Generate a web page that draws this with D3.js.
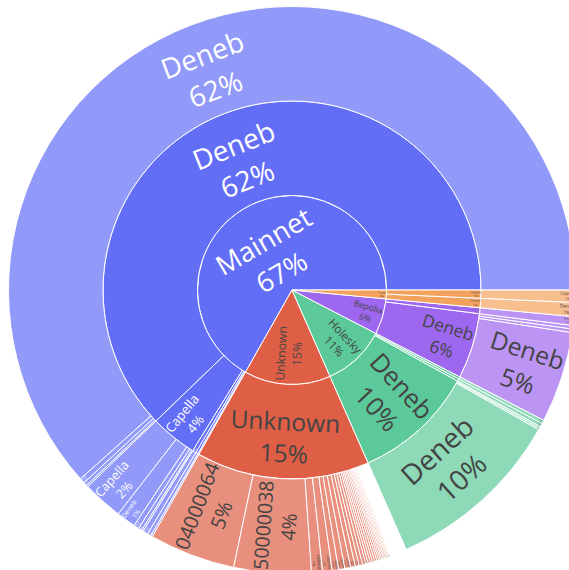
<!DOCTYPE html>
<html><head><meta charset="utf-8">
<script src="https://cdn.jsdelivr.net/npm/d3@7"></script>
<style>html,body{margin:0;padding:0;background:#fff;overflow:hidden}</style>
</head><body>
<svg id="chart" width="569" height="570"></svg>
<script>
// ---------------- DATA (values per mille of all clients) ----------------
const level1Labels = ["Mainnet", "Unknown", "Holesky", "Bepolia", "Hoodi"];
const level1Values = [668, 148, 108, 61, 15];

const level2Parents = ["Mainnet", "Mainnet", "Mainnet", "Mainnet", "Mainnet", "Unknown", "Holesky", "Holesky", "Holesky", "Bepolia", "Bepolia", "Hoodi", "Hoodi"];
const level2Labels  = ["Deneb", "Capella", "Bellatrix", "Altair", "Electra", "Unknown", "Deneb", "Electra", "Capella", "Deneb", "Electra", "Deneb", "Capella"];
const level2Values  = [622, 40, 3, 2, 1, 148, 104, 2, 2, 56, 5, 8, 7];

const level3Parents = [
  "Mainnet/Deneb", "Mainnet/Deneb", "Mainnet/Deneb", "Mainnet/Deneb",
  "Mainnet/Capella", "Mainnet/Capella", "Mainnet/Capella", "Mainnet/Capella", "Mainnet/Capella",
  "Mainnet/Bellatrix", "Mainnet/Altair", "Mainnet/Electra",
  "Unknown/Unknown", "Unknown/Unknown", "Unknown/Unknown", "Unknown/Unknown", "Unknown/Unknown",
  "Unknown/Unknown", "Unknown/Unknown", "Unknown/Unknown", "Unknown/Unknown", "Unknown/Unknown",
  "Unknown/Unknown", "Unknown/Unknown", "Unknown/Unknown", "Unknown/Unknown", "Unknown/Unknown",
  "Unknown/Unknown", "Unknown/Unknown", "Unknown/Unknown", "Unknown/Unknown", "Unknown/Unknown",
  "Unknown/Unknown", "Unknown/Unknown", "Unknown/Unknown", "Unknown/Unknown", "Unknown/Unknown",
  "Holesky/Deneb", "Holesky/Deneb", "Holesky/Deneb", "Holesky/Electra", "Holesky/Capella",
  "Bepolia/Deneb", "Bepolia/Deneb", "Bepolia/Deneb", "Bepolia/Electra",
  "Hoodi/Deneb", "Hoodi/Capella"
];
const level3Labels = [
  "Deneb", "Capella", "Electra", "Bellatrix",
  "Capella", "Deneb", "Bellatrix", "Altair", "Electra",
  "Bellatrix", "Altair", "Electra",
  "04000064", "50000038", "90000069", "00000364", "20000089",
  "00000396", "60000038", "10000064", "70000069", "30000038",
  "00000128", "80000064", "40000089", "00000912", "a0000038",
  "00000256", "b0000069", "00000448", "c0000064", "00000512",
  "d0000038", "00000640", "e0000069", "00000768", "f0000064",
  "Deneb", "Capella", "Electra", "Electra", "Capella",
  "Deneb", "Capella", "Electra", "Electra",
  "Deneb", "Capella"
];
const level3Values = [
  616, 3, 2, 1,
  23, 11, 3, 2, 1,
  3, 2, 1,
  49, 44, 6.3, 5.4, 3.6,
  3.6, 3.3, 2.7, 2.2, 2.0,
  1.8, 1.4, 1.3, 1.3, 1.3,
  1.2, 1.1, 1.0, 0.9, 0.9,
  0.8, 0.8, 0.7, 0.7, 0.6,
  102, 1, 1, 2, 2,
  52, 2, 2, 5,
  8, 7
];

// ---------------- STYLE ----------------
const networkColors = {Mainnet: "#636ef7", Unknown: "#df5f46", Holesky: "#5cc99a", Bepolia: "#9e67ef", Hoodi: "#f3a25e"};
const W = 569, H = 570, cx = 292, cy = 290, R = 283.5;
const MAXFONT = 28, TEXTPAD = 3;

// ---------------- BUILD TREE ----------------
const rootObj = {id: "", name: "", value: d3.sum(level1Values), children: []};
const byId = new Map();
level1Labels.forEach((l, i) => { const n = {id: l, name: l, value: level1Values[i], children: []}; rootObj.children.push(n); byId.set(n.id, n); });
level2Labels.forEach((l, i) => { const p = byId.get(level2Parents[i]); const n = {id: p.id + "/" + l, name: l, value: level2Values[i], children: []}; p.children.push(n); byId.set(n.id, n); });
level3Labels.forEach((l, i) => { const p = byId.get(level3Parents[i]); const n = {id: p.id + "/" + l + i, name: l, value: level3Values[i], children: []}; p.children.push(n); });
(function setOwn(n) {
  const cs = n.children || [];
  cs.forEach(setOwn);
  n.own = Math.max(0, n.value - d3.sum(cs, c => c.value));
  if (!cs.length) delete n.children;
})(rootObj);

const root = d3.hierarchy(rootObj).sum(d => d.own).sort((a, b) => b.value - a.value);
d3.partition().size([1, 4])(root);
const total = root.value;

const rScale = d3.scaleLinear().domain([1, 4]).range([0, R]);
const aScale = d3.scaleLinear().domain([0, 1]).range([Math.PI / 2, Math.PI / 2 - 2 * Math.PI]);

const arc = d3.arc()
  .startAngle(d => aScale(d.x0)).endAngle(d => aScale(d.x1))
  .innerRadius(d => rScale(d.y0)).outerRadius(d => rScale(d.y1));

const svg = d3.select("#chart");
svg.append("rect").attr("width", W).attr("height", H).attr("fill", "#fff");
const g = svg.append("g").attr("transform", `translate(${cx},${cy})`);

const nodes = root.descendants().filter(d => d.depth > 0);
const topOf = d => d.ancestors().find(a => a.depth === 1);
const baseColor = d => networkColors[topOf(d).data.name];

g.selectAll("path.slice").data(nodes).join("path")
  .attr("class", "slice")
  .attr("d", arc)
  .attr("fill", baseColor)
  .attr("fill-opacity", d => d.children ? 1 : 0.7)
  .attr("stroke", "#fff")
  .attr("stroke-width", 1);

// ---------------- TEXT (plotly-like inside-text fitting) ----------------
function fmtPct(v) {
  let s = Math.round(v * 100) + "%";
  if (s === "0%") {
    let t = (v * 100).toPrecision(3);
    if (t.indexOf(".") !== -1) t = t.replace(/[.]?0+$/, "");
    s = t + "%";
  }
  return s;
}
function calcMaxHalfSize(a, halfAngle, r, ring) {
  const q = a + 1 / (2 * Math.tan(halfAngle));
  return r * Math.min(1 / (Math.sqrt(q * q + 0.5) + q), ring / (Math.sqrt(a * a + ring / 2) + a));
}
function calcRCenter(a, b) { return Math.cos(b) - a * b; }
function calcRotate(t) { return (180 / Math.PI * t + 720) % 180 - 90; }

const tg = g.append("g");
nodes.forEach(d => {
  const col = d3.color(baseColor(d)).rgb();
  const bright = (col.r * 299 + col.g * 587 + col.b * 114) / 1000;
  const txt = tg.append("text")
    .attr("font-family", "'Open Sans', verdana, arial, sans-serif")
    .attr("font-size", MAXFONT)
    .attr("text-anchor", "middle")
    .attr("fill", bright < 128 ? "#fff" : "#444");
  txt.append("tspan").attr("x", 0).attr("y", 0).text(d.data.name);
  txt.append("tspan").attr("x", 0).attr("dy", "1.3em").text(fmtPct(d.value / total));
  const bb = txt.node().getBBox();
  const w = bb.width, h = bb.height;
  const rpx0 = rScale(d.y0), rpx1 = rScale(d.y1);
  const span = (d.x1 - d.x0) * 2 * Math.PI;
  const half = 0.5 * Math.min(span, Math.PI);
  const ring = 1 - rpx0 / rpx1;
  const mid = (aScale(d.x0) + aScale(d.x1)) / 2; // d3 convention
  const rIns = Math.max(0, Math.min(1 / (1 + 1 / Math.sin(half)), ring / 2));
  const cands = [];
  let T = {scale: rIns * rpx1 * 2 / Math.sqrt(w * w + h * h), rCenter: 1 - rIns, rotate: 0};
  let chosen = null;
  if (T.scale >= 1) chosen = T; else cands.push(T);
  if (!chosen) {
    const rr = Math.max(0, rpx1 - 2 * TEXTPAD);
    let a = w / h, s = calcMaxHalfSize(a, half, rr, ring);
    cands.push({scale: s * 2 / h, rCenter: calcRCenter(a, s / rr), rotate: calcRotate(mid)});
    a = h / w; s = calcMaxHalfSize(a, half, rr, ring);
    cands.push({scale: s * 2 / w, rCenter: calcRCenter(a, s / rr), rotate: calcRotate(mid + Math.PI / 2)});
    chosen = cands.reduce((m, c) => c.scale > m.scale ? c : m, cands[0]);
  }
  const sc = Math.max(0.03, Math.min(1, chosen.scale));
  const tx = rpx1 * Math.sin(mid) * chosen.rCenter;
  const ty = -rpx1 * Math.cos(mid) * chosen.rCenter;
  const bx = bb.x + w / 2, by = bb.y + h / 2;
  txt.attr("transform", `translate(${tx},${ty}) rotate(${chosen.rotate}) scale(${sc}) translate(${-bx},${-by})`);
});
</script>
</body></html>
